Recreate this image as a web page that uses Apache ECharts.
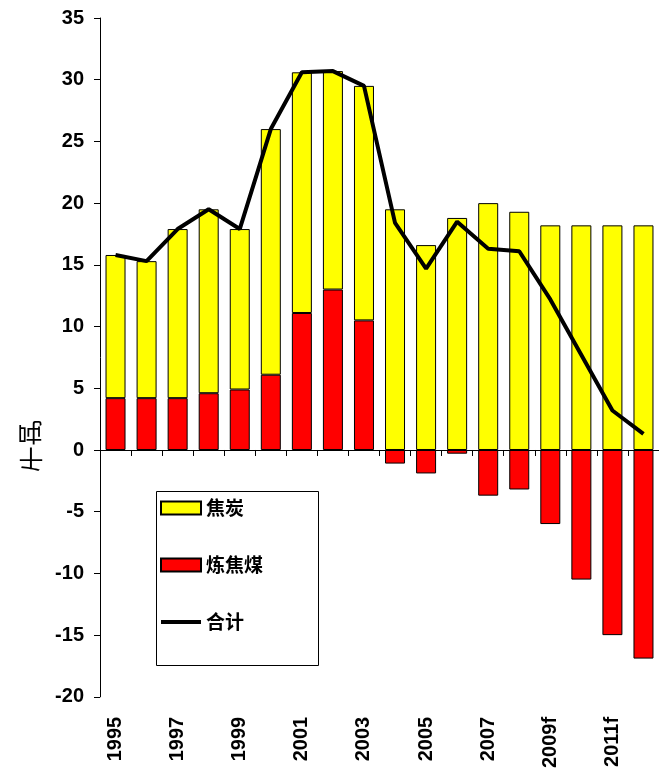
<!DOCTYPE html>
<html>
<head>
<meta charset="utf-8">
<script src="https://cdn.jsdelivr.net/npm/echarts@6/dist/echarts.min.js"></script>
<style>
html,body{margin:0;padding:0;background:#fff;}
#chart{width:659px;height:771px;}
</style>
</head>
<body>
<div id="chart"></div>
<script>
const years = ['1995','1996','1997','1998','1999','2000','2001','2002','2003','2004','2005','2006','2007','2008','2009f','2010f','2011f','2012f'];
const cokeValues = [11.6, 11.1, 13.7, 14.9, 13.0, 19.9, 19.5, 17.7, 19.0, 19.5, 16.6, 18.8, 20.0, 19.3, 18.2, 18.2, 18.2, 18.2];
const cokingCoalValues = [4.2, 4.2, 4.2, 4.6, 4.9, 6.1, 11.1, 13.0, 10.5, -1.1, -1.9, -0.3, -3.7, -3.2, -6.0, -10.5, -15.0, -16.9];
const totalValues = [15.8, 15.3, 17.9, 19.5, 17.9, 26.0, 30.6, 30.7, 29.5, 18.4, 14.7, 18.5, 16.3, 16.1, 12.2, 7.7, 3.2, 1.3];
const yTicks = {min: -20, max: 35, step: 5};

const chart = echarts.init(document.getElementById('chart'), null, {renderer: 'canvas'});
const numFont = '"Liberation Sans", Arial, sans-serif';
const cjkFont = '"Noto Sans CJK SC", sans-serif';

chart.setOption({
  backgroundColor: '#ffffff',
  animation: false,
  grid: {left: 100, right: -2, top: 18, bottom: 73, containLabel: false},
  legend: {
    orient: 'vertical',
    left: 160,
    top: 498,
    padding: 0,
    itemWidth: 40,
    itemHeight: 13,
    itemGap: 37,
    itemTextGap: 3,
    textStyle: {fontSize: 19, fontWeight: 'bold', fontFamily: cjkFont, color: '#000', lineHeight: 20},
    data: [
      {name: '焦炭', icon: 'rect'},
      {name: '炼焦煤', icon: 'rect'},
      {name: '合计', icon: 'path://M0,0L40,0L40,4L0,4Z', symbolKeepAspect: true, itemStyle: {color: '#000', borderWidth: 0}}
    ]
  },
  graphic: [
    {type: 'rect', left: 154, top: 489, shape: {width: 162, height: 174}, style: {fill: 'none', stroke: '#000', lineWidth: 1}, z: 100},
    {type: 'text', x: 30, y: 432, scaleY: -1, style: {text: '吨', fontSize: 25, fontFamily: cjkFont, fill: '#000', align: 'center', verticalAlign: 'middle'}},
    {type: 'text', x: 31, y: 459, scaleY: -1, style: {text: '千', fontSize: 25, fontFamily: cjkFont, fill: '#000', align: 'center', verticalAlign: 'middle'}}
  ],
  xAxis: [
    {
      type: 'category',
      data: years,
      boundaryGap: true,
      axisLine: {show: true, onZero: true, lineStyle: {color: '#000', width: 1}},
      axisTick: {show: true, interval: 0, length: 6, lineStyle: {color: '#000'}},
      axisLabel: {show: false},
      splitLine: {show: false}
    },
    {
      type: 'category',
      data: years,
      position: 'bottom',
      boundaryGap: true,
      axisLine: {show: false, onZero: false},
      axisTick: {show: false},
      axisLabel: {show: true, interval: 1, rotate: 90, margin: 20, fontSize: 20, fontWeight: 'bold', fontFamily: numFont, color: '#000'},
      splitLine: {show: false}
    }
  ],
  yAxis: {
    type: 'value',
    min: yTicks.min,
    max: yTicks.max,
    interval: yTicks.step,
    axisLine: {show: true, lineStyle: {color: '#000', width: 1}},
    axisTick: {show: true, length: 6, lineStyle: {color: '#000'}},
    axisLabel: {fontSize: 20, fontWeight: 'bold', fontFamily: numFont, color: '#000', margin: 16},
    splitLine: {show: false}
  },
  series: [
    {
      name: '炼焦煤',
      type: 'bar',
      stack: 'total',
      xAxisIndex: 0,
      barWidth: 20,
      data: cokingCoalValues,
      itemStyle: {color: '#ff0000', borderColor: '#000', borderWidth: 1}
    },
    {
      name: '焦炭',
      type: 'bar',
      stack: 'total',
      xAxisIndex: 0,
      barWidth: 20,
      data: cokeValues,
      itemStyle: {color: '#ffff00', borderColor: '#000', borderWidth: 1}
    },
    {
      name: '合计',
      type: 'line',
      xAxisIndex: 0,
      data: totalValues,
      symbol: 'none',
      z: 10,
      lineStyle: {color: '#000', width: 4},
      itemStyle: {color: '#000'}
    }
  ]
});
</script>
</body>
</html>
